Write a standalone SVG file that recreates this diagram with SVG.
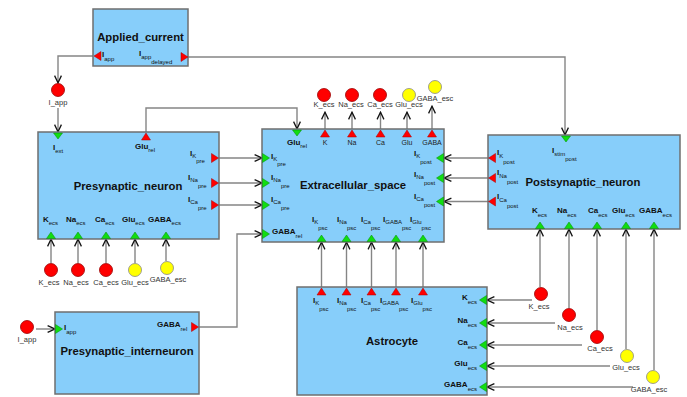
<svg xmlns="http://www.w3.org/2000/svg" width="687" height="397" viewBox="0 0 687 397">
<defs>
<style>
.box{fill:#87cefa;stroke:#6f6f6f;stroke-width:1.5}
.t{font-family:"Liberation Sans",Arial,sans-serif;font-weight:bold;font-size:11.3px;fill:#111;text-anchor:middle}
.p{font-family:"Liberation Sans",Arial,sans-serif;font-weight:bold;font-size:8px;fill:#111}
.s{font-weight:normal;font-size:6px}
.n{font-family:"Liberation Sans",Arial,sans-serif;font-size:7px;fill:#222;text-anchor:middle}
.c{font-family:"Liberation Sans",Arial,sans-serif;font-size:7.5px;fill:#333;text-anchor:middle}
.pr{fill:#f00;stroke:#a00;stroke-width:.5}
.pg{fill:#11dd11;stroke:#080;stroke-width:.5}
.cr{fill:#f00;stroke:#900;stroke-width:.8}
.cy{fill:#ff0;stroke:#888;stroke-width:.8}
.ln{fill:none;stroke:#858585;stroke-width:1.4;marker-end:url(#a)}
</style>
<marker id="a" viewBox="0 0 10 10" refX="9.2" refY="5" markerWidth="9" markerHeight="9" markerUnits="userSpaceOnUse" orient="auto">
<path d="M1,1.2 L9,5 L1,8.8" fill="none" stroke="#111" stroke-width="1.4"/>
</marker>
</defs>
<rect width="687" height="397" fill="#fff"/>

<g id="connectors">
<path class="ln" d="M93,56 H58 V83"/>
<path class="ln" d="M58,108 V132"/>
<path class="ln" d="M188,57 H565 V135"/>
<path class="ln" d="M146,132 V108 H297 V129"/>
<path class="ln" d="M219,158 H262"/>
<path class="ln" d="M219,183 H262"/>
<path class="ln" d="M219,205 H262"/>
<path class="ln" d="M199,327 H237 V234 H262"/>
<path class="ln" d="M36,329 H55"/>
<path class="ln" d="M51,263 V239"/>
<path class="ln" d="M78,263 V239"/>
<path class="ln" d="M106,263 V239"/>
<path class="ln" d="M135,263 V239"/>
<path class="ln" d="M166,261 V239"/>
<path class="ln" d="M325,129 V112"/>
<path class="ln" d="M352,129 V112"/>
<path class="ln" d="M380.5,129 V112"/>
<path class="ln" d="M407,129 V112"/>
<path class="ln" d="M432,129 V106"/>
<path class="ln" d="M321.5,287 V242"/>
<path class="ln" d="M346.5,287 V242"/>
<path class="ln" d="M371.5,287 V242"/>
<path class="ln" d="M396,287 V242"/>
<path class="ln" d="M423,287 V242"/>
<path class="ln" d="M488,158 H444"/>
<path class="ln" d="M488,178 H444"/>
<path class="ln" d="M488,201.5 H444"/>
<path class="ln" d="M540,287 V229"/>
<path class="ln" d="M569,308 V229"/>
<path class="ln" d="M597,330 V229"/>
<path class="ln" d="M626,349 V229"/>
<path class="ln" d="M654,370 V229"/>
<path class="ln" d="M532,300 H487"/>
<path class="ln" d="M555,323 H487"/>
<path class="ln" d="M582,345 H487"/>
<path class="ln" d="M610,366 H487"/>
<path class="ln" d="M633,387 H487"/>
</g>

<g id="applied_current">
<rect class="box" x="93" y="9" width="95" height="57"/>
<text class="t" x="140.5" y="41">Applied_current</text>
<polygon class="pr" points="94,56 101,51.5 101,60.5"/>
<text class="p" x="102" y="57">I<tspan class="s" dy="4">app</tspan></text>
<polygon class="pr" points="188,57 181,52.5 181,61.5"/>
<text class="p" x="139" y="56">I<tspan class="s" dy="3">app</tspan><tspan class="s" dy="5">delayed</tspan></text>
</g>

<g id="presynaptic_neuron">
<rect class="box" x="38" y="132" width="181" height="107"/>
<text class="t" x="128" y="189.5">Presynaptic_neuron</text>
<polygon class="pg" points="53.5,133 62.5,133 58,139"/>
<text class="p" x="53" y="150">I<tspan class="s" dy="3">ext</tspan></text>
<polygon class="pr" points="146,133 141.5,140 150.5,140"/>
<text class="p" x="135" y="149">Glu<tspan class="s" dy="3">rel</tspan></text>
<polygon class="pr" points="218.5,158 211.5,153.5 211.5,162.5"/>
<text class="p" x="190" y="156">I<tspan class="s" dy="2">K</tspan><tspan class="s" dy="5">pre</tspan></text>
<polygon class="pr" points="218.5,183 211.5,178.5 211.5,187.5"/>
<text class="p" x="188" y="180">I<tspan class="s" dy="2">Na</tspan><tspan class="s" dy="6">pre</tspan></text>
<polygon class="pr" points="218.5,205 211.5,200.5 211.5,209.5"/>
<text class="p" x="188" y="202">I<tspan class="s" dy="2">Ca</tspan><tspan class="s" dy="6">pre</tspan></text>
<text class="p" x="43" y="222">K<tspan class="s" dy="3">ecs</tspan></text>
<text class="p" x="66" y="222">Na<tspan class="s" dy="3">ecs</tspan></text>
<text class="p" x="95" y="222">Ca<tspan class="s" dy="3">ecs</tspan></text>
<text class="p" x="122" y="222">Glu<tspan class="s" dy="3">ecs</tspan></text>
<text class="p" x="148" y="222">GABA<tspan class="s" dy="3">ecs</tspan></text>
<polygon class="pg" points="51,232 46.5,238.5 55.5,238.5"/>
<polygon class="pg" points="78,232 73.5,238.5 82.5,238.5"/>
<polygon class="pg" points="106,232 101.5,238.5 110.5,238.5"/>
<polygon class="pg" points="135,232 130.5,238.5 139.5,238.5"/>
<polygon class="pg" points="166,232 161.5,238.5 170.5,238.5"/>
</g>

<g id="presynaptic_interneuron">
<rect class="box" x="55" y="312" width="144" height="82"/>
<text class="t" x="127" y="355">Presynaptic_interneuron</text>
<polygon class="pg" points="55.5,324.5 55.5,333.5 62.5,329"/>
<text class="p" x="64" y="330">I<tspan class="s" dy="4">app</tspan></text>
<polygon class="pr" points="198.5,327 191.5,322.5 191.5,331.5"/>
<text class="p" x="157" y="327">GABA<tspan class="s" dy="4">rel</tspan></text>
</g>

<g id="extracellular_space">
<rect class="box" x="262" y="129" width="182" height="113"/>
<text class="t" x="353" y="189">Extracellular_space</text>
<polygon class="pg" points="292.5,130 301.5,130 297,136"/>
<text class="p" x="287" y="145">Glu<tspan class="s" dy="3">rel</tspan></text>
<polygon class="pr" points="325,130 320.5,137 329.5,137"/>
<polygon class="pr" points="352,130 347.5,137 356.5,137"/>
<polygon class="pr" points="380.5,130 376,137 385,137"/>
<polygon class="pr" points="407,130 402.5,137 411.5,137"/>
<polygon class="pr" points="432,130 427.5,137 436.5,137"/>
<text class="n" x="325" y="145">K</text>
<text class="n" x="352" y="145">Na</text>
<text class="n" x="380.5" y="145">Ca</text>
<text class="n" x="407" y="145">Glu</text>
<text class="n" x="432" y="145">GABA</text>
<polygon class="pg" points="262.5,153.5 262.5,162.5 269.5,158"/>
<text class="p" x="271" y="159">I<tspan class="s" dy="2">K</tspan><tspan class="s" dy="5">pre</tspan></text>
<polygon class="pg" points="262.5,178.5 262.5,187.5 269.5,183"/>
<text class="p" x="271" y="180">I<tspan class="s" dy="2">Na</tspan><tspan class="s" dy="6">pre</tspan></text>
<polygon class="pg" points="262.5,200.5 262.5,209.5 269.5,205"/>
<text class="p" x="271" y="202">I<tspan class="s" dy="2">Ca</tspan><tspan class="s" dy="6">pre</tspan></text>
<polygon class="pg" points="262.5,229.5 262.5,238.5 269.5,234"/>
<text class="p" x="272" y="234">GABA<tspan class="s" dy="4">rel</tspan></text>
<polygon class="pg" points="443.5,153.5 443.5,162.5 436.5,158"/>
<text class="p" x="414" y="156">I<tspan class="s" dy="2">K</tspan><tspan class="s" dy="6">post</tspan></text>
<polygon class="pg" points="443.5,173.5 443.5,182.5 436.5,178"/>
<text class="p" x="414" y="177">I<tspan class="s" dy="2">Na</tspan><tspan class="s" dy="6">post</tspan></text>
<polygon class="pg" points="443.5,197 443.5,206 436.5,201.5"/>
<text class="p" x="414" y="199">I<tspan class="s" dy="2">Ca</tspan><tspan class="s" dy="6">post</tspan></text>
<text class="p" x="312" y="222">I<tspan class="s" dy="2">K</tspan><tspan class="s" dy="6">psc</tspan></text>
<text class="p" x="337" y="222">I<tspan class="s" dy="2">Na</tspan><tspan class="s" dy="6">psc</tspan></text>
<text class="p" x="361" y="222">I<tspan class="s" dy="2">Ca</tspan><tspan class="s" dy="6">psc</tspan></text>
<text class="p" x="383" y="222">I<tspan class="s" dy="2">GABA</tspan><tspan class="s" dy="6">psc</tspan></text>
<text class="p" x="410" y="222">I<tspan class="s" dy="2">Glu</tspan><tspan class="s" dy="6">psc</tspan></text>
<polygon class="pg" points="321.5,235 317,241.5 326,241.5"/>
<polygon class="pg" points="346.5,235 342,241.5 351,241.5"/>
<polygon class="pg" points="371.5,235 367,241.5 376,241.5"/>
<polygon class="pg" points="396,235 391.5,241.5 400.5,241.5"/>
<polygon class="pg" points="423,235 418.5,241.5 427.5,241.5"/>
</g>

<g id="astrocyte">
<rect class="box" x="297" y="287" width="190" height="108"/>
<text class="t" x="392" y="345">Astrocyte</text>
<polygon class="pr" points="321.5,288 317,295 326,295"/>
<polygon class="pr" points="346.5,288 342,295 351,295"/>
<polygon class="pr" points="371.5,288 367,295 376,295"/>
<polygon class="pr" points="396,288 391.5,295 400.5,295"/>
<polygon class="pr" points="423,288 418.5,295 427.5,295"/>
<text class="p" x="313" y="303">I<tspan class="s" dy="2">K</tspan><tspan class="s" dy="6">psc</tspan></text>
<text class="p" x="337" y="303">I<tspan class="s" dy="2">Na</tspan><tspan class="s" dy="6">psc</tspan></text>
<text class="p" x="361" y="303">I<tspan class="s" dy="2">Ca</tspan><tspan class="s" dy="6">psc</tspan></text>
<text class="p" x="380" y="303">I<tspan class="s" dy="2">GABA</tspan><tspan class="s" dy="6">psc</tspan></text>
<text class="p" x="411" y="303">I<tspan class="s" dy="2">Glu</tspan><tspan class="s" dy="6">psc</tspan></text>
<polygon class="pg" points="486.5,295.5 486.5,304.5 479.5,300"/>
<polygon class="pg" points="486.5,318.5 486.5,327.5 479.5,323"/>
<polygon class="pg" points="486.5,340.5 486.5,349.5 479.5,345"/>
<polygon class="pg" points="486.5,361.5 486.5,370.5 479.5,366"/>
<polygon class="pg" points="486.5,382.5 486.5,391.5 479.5,387"/>
<text class="p" x="477" y="300" text-anchor="end">K<tspan class="s" dy="4">ecs</tspan></text>
<text class="p" x="477" y="323" text-anchor="end">Na<tspan class="s" dy="4">ecs</tspan></text>
<text class="p" x="477" y="345" text-anchor="end">Ca<tspan class="s" dy="4">ecs</tspan></text>
<text class="p" x="477" y="366" text-anchor="end">Glu<tspan class="s" dy="4">ecs</tspan></text>
<text class="p" x="477" y="387" text-anchor="end">GABA<tspan class="s" dy="4">ecs</tspan></text>
</g>

<g id="postsynaptic_neuron">
<rect class="box" x="488" y="135" width="192" height="94"/>
<text class="t" x="583" y="186">Postsynaptic_neuron</text>
<polygon class="pg" points="561.5,136 570.5,136 566,142"/>
<text class="p" x="552" y="153">I<tspan class="s" dy="3">stim</tspan><tspan class="s" dy="5">post</tspan></text>
<polygon class="pr" points="488.5,158 495.5,153.5 495.5,162.5"/>
<text class="p" x="497" y="155">I<tspan class="s" dy="3">K</tspan><tspan class="s" dy="6">post</tspan></text>
<polygon class="pr" points="488.5,178 495.5,173.5 495.5,182.5"/>
<text class="p" x="497" y="175">I<tspan class="s" dy="3">Na</tspan><tspan class="s" dy="6">post</tspan></text>
<polygon class="pr" points="488.5,201.5 495.5,197 495.5,206"/>
<text class="p" x="497" y="199">I<tspan class="s" dy="3">Ca</tspan><tspan class="s" dy="6">post</tspan></text>
<text class="p" x="532" y="213">K<tspan class="s" dy="4">ecs</tspan></text>
<text class="p" x="557" y="213">Na<tspan class="s" dy="4">ecs</tspan></text>
<text class="p" x="588" y="213">Ca<tspan class="s" dy="4">ecs</tspan></text>
<text class="p" x="612" y="213">Glu<tspan class="s" dy="4">ecs</tspan></text>
<text class="p" x="639" y="213">GABA<tspan class="s" dy="4">ecs</tspan></text>
<polygon class="pg" points="540,222 535.5,228.5 544.5,228.5"/>
<polygon class="pg" points="569,222 564.5,228.5 573.5,228.5"/>
<polygon class="pg" points="597,222 592.5,228.5 601.5,228.5"/>
<polygon class="pg" points="626,222 621.5,228.5 630.5,228.5"/>
<polygon class="pg" points="654,222 649.5,228.5 658.5,228.5"/>
</g>

<g id="i_app_1"><circle class="cr" cx="58" cy="90" r="6.5"/><text class="c" x="58" y="105">I_app</text></g>
<g id="i_app_2"><circle class="cr" cx="27" cy="327" r="6.5"/><text class="c" x="27" y="342">I_app</text></g>

<g id="pre_k_ecs"><circle class="cr" cx="51" cy="270" r="6.5"/><text class="c" x="49" y="285">K_ecs</text></g>
<g id="pre_na_ecs"><circle class="cr" cx="78" cy="270" r="6.5"/><text class="c" x="76" y="285">Na_ecs</text></g>
<g id="pre_ca_ecs"><circle class="cr" cx="106" cy="270" r="6.5"/><text class="c" x="106" y="285">Ca_ecs</text></g>
<g id="pre_glu_ecs"><circle class="cy" cx="135" cy="270" r="6.5"/><text class="c" x="135" y="285">Glu_ecs</text></g>
<g id="pre_gaba_esc"><circle class="cy" cx="167" cy="268" r="6.5"/><text class="c" x="168" y="282">GABA_esc</text></g>

<g id="ecs_k_ecs"><circle class="cr" cx="324" cy="95" r="6.5"/><text class="c" x="324" y="107">K_ecs</text></g>
<g id="ecs_na_ecs"><circle class="cr" cx="352" cy="95" r="6.5"/><text class="c" x="351" y="107">Na_ecs</text></g>
<g id="ecs_ca_ecs"><circle class="cr" cx="380" cy="95" r="6.5"/><text class="c" x="380" y="107">Ca_ecs</text></g>
<g id="ecs_glu_ecs"><circle class="cy" cx="409" cy="95" r="6.5"/><text class="c" x="409" y="107">Glu_ecs</text></g>
<g id="ecs_gaba_esc"><circle class="cy" cx="435" cy="87" r="6.5"/><text class="c" x="435" y="101">GABA_esc</text></g>

<g id="post_k_ecs"><circle class="cr" cx="541" cy="294" r="6.5"/><text class="c" x="539" y="309">K_ecs</text></g>
<g id="post_na_ecs"><circle class="cr" cx="569" cy="315" r="6.5"/><text class="c" x="570" y="330">Na_ecs</text></g>
<g id="post_ca_ecs"><circle class="cr" cx="597" cy="337" r="6.5"/><text class="c" x="600" y="351">Ca_ecs</text></g>
<g id="post_glu_ecs"><circle class="cy" cx="627" cy="356" r="6.5"/><text class="c" x="626" y="370">Glu_ecs</text></g>
<g id="post_gaba_esc"><circle class="cy" cx="653" cy="377" r="6.5"/><text class="c" x="649" y="392">GABA_esc</text></g>
</svg>
